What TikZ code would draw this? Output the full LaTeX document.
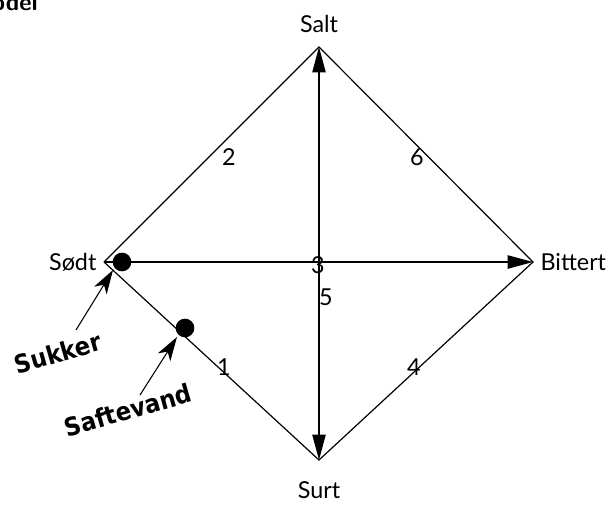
\documentclass[tikz,border=0pt]{standalone}
\usepackage{fontspec}
\setmainfont{Lato}
\newfontfamily\handfont{DejaVu Sans Condensed Bold}
\usetikzlibrary{arrows.meta}
\begin{document}
\begin{tikzpicture}[x=0.75pt,y=-0.75pt,
  edge/.style={line width=0.9pt},
  bigarrow/.style={line width=0.9pt,-{Triangle[length=19pt,width=10pt]}},
  pointer/.style={line width=0.8pt,-{Stealth[length=18pt,width=11pt,inset=5pt]}},
  vlabel/.style={font=\fontsize{17.5}{20}\selectfont,inner sep=1pt},
  num/.style={font=\fontsize{17.5}{20}\selectfont,inner sep=1pt},
  hand/.style={font=\handfont\fontsize{19}{22}\selectfont,inner sep=1pt,rotate=16},
  dot/.style={circle,fill=black,inner sep=0pt,minimum size=14pt}]
\useasboundingbox (0,0) rectangle (614,511);
\node[anchor=base east,font=\sffamily\bfseries\fontsize{18}{20}\selectfont,inner sep=0pt] (title) at (38,10) {Model};
\coordinate (salt) at (319,47);
\coordinate (surt) at (319,460);
\coordinate (sodt) at (104,262);
\coordinate (bit) at (533,262);
\coordinate (mid) at (319,262);
\node[vlabel] (lsalt) at (319,24) {Salt};
\node[vlabel] (lsurt) at (319,490) {Surt};
\node[vlabel,anchor=east] (lsodt) at (98,262) {Sødt};
\node[vlabel,anchor=west] (lbit) at (539,262) {Bittert};
\draw[edge] (sodt) -- (salt) -- (bit) -- (surt) -- (sodt);
\draw[bigarrow] (sodt) -- (bit);
\draw[bigarrow] (mid) -- (salt);
\draw[bigarrow] (mid) -- (surt);
\node[dot] (d1) at (122,262) {};
\node[dot] (d2) at (185,328) {};
\node[num] (n2) at (229,157) {2};
\node[num] (n6) at (417,157) {6};
\node[num] (n3) at (318,265) {3};
\node[num] (n5) at (326,297) {5};
\node[num] (n1) at (224,367) {1};
\node[num] (n4) at (414,367) {4};
\node[hand] (suk) at (58,353) {Sukker};
\node[hand] (saf) at (128,410) {Saftevand};
\coordinate (p1) at (113,270);
\coordinate (p2) at (177,337);
\coordinate (s1) at (76,330);
\coordinate (s2) at (140,395);
\draw[pointer] (s1) -- (p1);
\draw[pointer] (s2) -- (p2);
\end{tikzpicture}
\end{document}
